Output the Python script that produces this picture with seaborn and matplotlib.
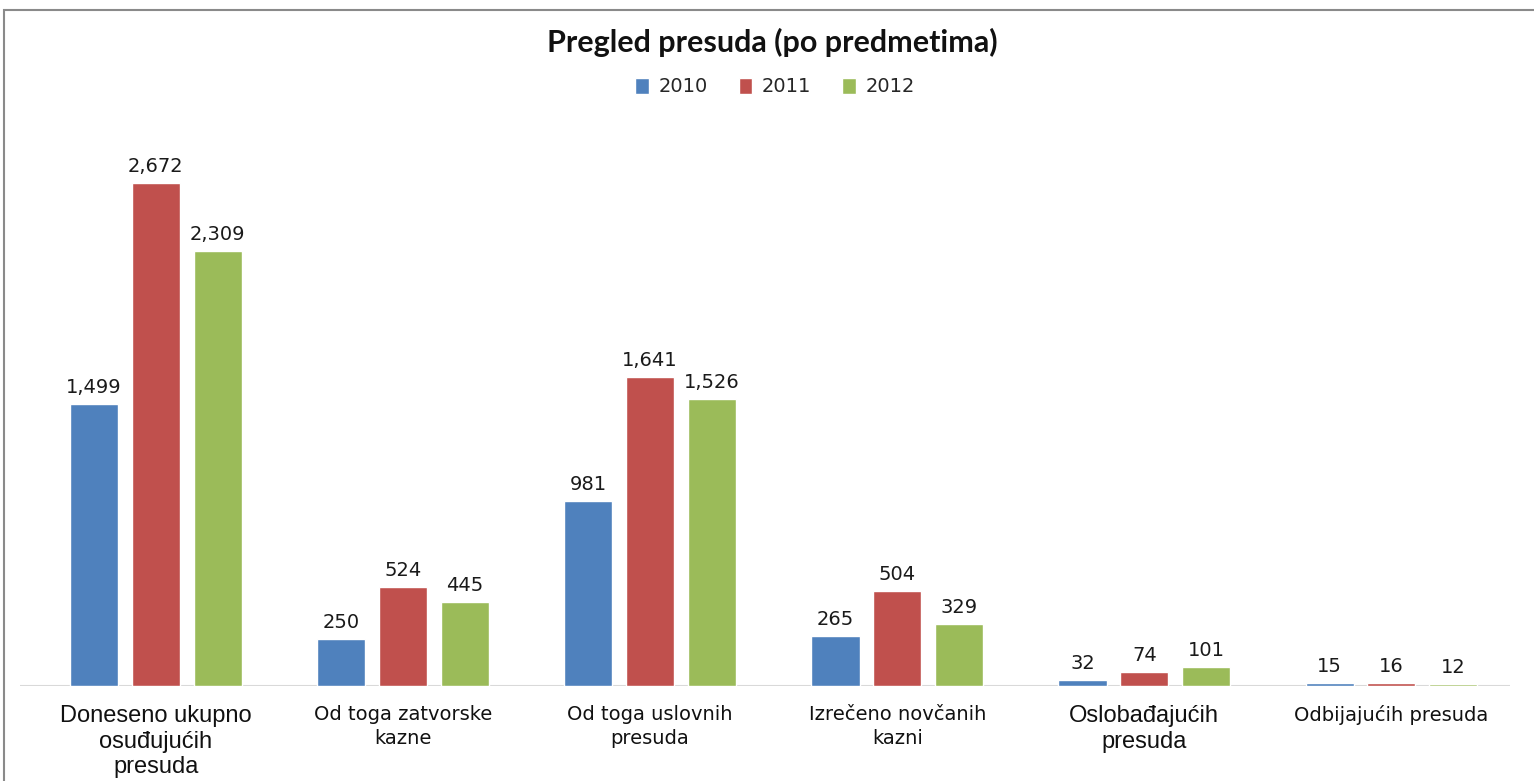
import matplotlib
matplotlib.use('Agg')
import matplotlib.pyplot as plt
from matplotlib.patches import Rectangle
import seaborn as sns
import pandas as pd

sns.set_theme(style="white")
plt.rcParams['font.family'] = ['DejaVu Sans']

# Data
categories = [
    'Doneseno ukupno\nosuđujućih\npresuda',
    'Od toga zatvorske\nkazne',
    'Od toga uslovnih\npresuda',
    'Izrečeno novčanih\nkazni',
    'Oslobađajućih\npresuda',
    'Odbijajućih presuda',
]
years = ['2010', '2011', '2012']
values_2010 = [1499, 250, 981, 265, 32, 15]
values_2011 = [2672, 524, 1641, 504, 74, 16]
values_2012 = [2309, 445, 1526, 329, 101, 12]
colors = ['#4F81BD', '#C0504D', '#9BBB59']

df = pd.DataFrame({
    'kategorija': categories * 3,
    'godina': [y for y in years for _ in categories],
    'broj': values_2010 + values_2011 + values_2012,
})

fig = plt.figure(figsize=(15.34, 7.81), dpi=100)
ax = fig.add_axes([20 / 1534, 1 - 686 / 781, 1490 / 1534, 565 / 781])

sns.barplot(data=df, x='kategorija', y='broj', hue='godina', order=categories,
            hue_order=years, palette=colors, width=0.75, gap=0.22,
            saturation=1, ax=ax, legend=True)

for cont in ax.containers:
    ax.bar_label(cont, labels=[f'{int(v):,}' for v in cont.datavalues],
                 padding=5, fontsize=14, color='#1a1a1a')

ax.set_xlim(-0.55, 5.48)
ax.set_ylim(0, 3000)
ax.set_xlabel('')
ax.set_ylabel('')
ax.set_yticks([])
for s in ax.spines.values():
    s.set_visible(False)
ax.axhline(0, color='#D9D9D9', linewidth=1.5, zorder=0)

ax.tick_params(axis='x', length=0, pad=14)
ax.set_xticks(range(len(categories)))
ax.set_xticklabels(categories, fontsize=14, linespacing=1.3)
for i, lab in enumerate(ax.get_xticklabels()):
    if i in (0, 4):
        lab.set_fontsize(17)
        lab.set_family('Liberation Sans')
        lab.set_linespacing(1.2)
    lab.set_color('#111111')

leg = ax.legend(loc='center', bbox_to_anchor=(775 / 1534, 1 - 87 / 781),
                bbox_transform=fig.transFigure, ncol=3, frameon=False,
                fontsize=14, handlelength=0.7, handleheight=0.9,
                handletextpad=0.5, columnspacing=1.6)

fig.text(772 / 1534, 1 - 42 / 781, 'Pregled presuda (po predmetima)',
         ha='center', va='center', fontsize=22, fontweight='bold',
         family='Lato', color='#111111')

# frame around chart area
fig.patches.append(Rectangle((4 / 1534, -0.05), 1.1, 1.05 - 10 / 781,
                             transform=fig.transFigure, fill=False,
                             edgecolor='#8a8a8a', linewidth=1.5))

fig.savefig('out.png', dpi=100, facecolor='white')
